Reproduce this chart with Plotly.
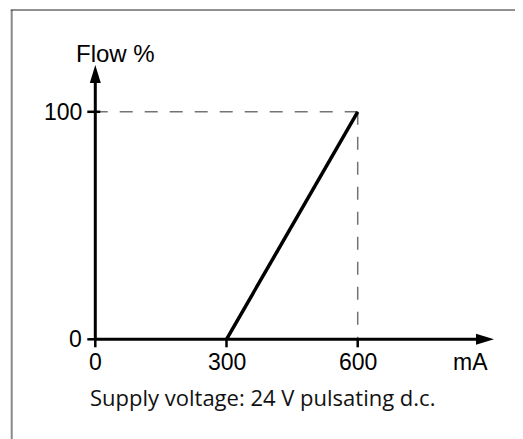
import plotly.graph_objects as go

# ---- data ----
current_ma = [300, 600]
flow_pct = [0, 100]
x_ticks = [0, 300, 600]
x_tick_labels = ["0", "300", "600"]
y_ticks = [0, 100]
y_tick_labels = ["0", "100"]
x_title = "mA"
y_title = "Flow %"
note = "Supply voltage: 24 V pulsating d.c."

# ---- layout geometry (pixel anchors, page offset of 8px compensated) ----
W, H = 523, 439
OFF = 8
x0_px, x600_px = 95.3 - OFF, 357.7 - OFF
y0_px, y100_px = 339.3 - OFF, 111.8 - OFF
sx = (x600_px - x0_px) / 600.0
sy = (y0_px - y100_px) / 100.0
x_range = [-x0_px / sx, (W - x0_px) / sx]
y_range = [(y0_px - H) / sy, y0_px / sy]
x_axis_end = (494 - OFF - x0_px) / sx
y_axis_end = (y0_px - (65 - OFF)) / sy

fig = go.Figure()

dash_style = dict(color="#737373", width=1.5, dash="13px,12px")
# dashed guides
fig.add_trace(go.Scatter(x=[x_ticks[2], x_ticks[0]], y=[y_ticks[1], y_ticks[1]], mode="lines",
                         line=dash_style, hoverinfo="skip"))
fig.add_trace(go.Scatter(x=[x_ticks[2], x_ticks[2]], y=[y_ticks[1], y_ticks[0]], mode="lines",
                         line=dash_style, hoverinfo="skip"))

# axes
fig.add_trace(go.Scatter(x=[0, x_axis_end - 10 / sx], y=[0, 0], mode="lines",
                         line=dict(color="black", width=3), hoverinfo="skip"))
fig.add_trace(go.Scatter(x=[0, 0], y=[0, y_axis_end - 10 / sy], mode="lines",
                         line=dict(color="black", width=3), hoverinfo="skip"))

# characteristic
fig.add_trace(go.Scatter(x=current_ma, y=flow_pct, mode="lines",
                         line=dict(color="black", width=3.5), hoverinfo="skip"))

shapes = []
# arrowheads
shapes.append(dict(type="path", xref="x", yref="y", xsizemode="pixel", ysizemode="pixel",
                   xanchor=x_axis_end, yanchor=0, path="M0,0 L-18,5.5 L-18,-5.5 Z",
                   fillcolor="black", line=dict(width=0)))
shapes.append(dict(type="path", xref="x", yref="y", xsizemode="pixel", ysizemode="pixel",
                   xanchor=0, yanchor=y_axis_end, path="M0,0 L-5.5,-18 L5.5,-18 Z",
                   fillcolor="black", line=dict(width=0)))
# ticks
for t in x_ticks:
    shapes.append(dict(type="line", xref="x", yref="y", ysizemode="pixel", yanchor=0,
                       x0=t, x1=t, y0=0, y1=-8, line=dict(color="black", width=2.5)))
for t in y_ticks:
    shapes.append(dict(type="line", xref="x", yref="y", xsizemode="pixel", xanchor=0,
                       x0=-8, x1=5 if t > 0 else 0, y0=t, y1=t, line=dict(color="black", width=2.5)))
# frame
fx, fy = 11.7 - OFF, 10 - OFF
shapes.append(dict(type="line", xref="paper", yref="paper", x0=fx / W, x1=fx / W, y0=0, y1=1 - fy / H,
                   line=dict(color="#888888", width=2)))
shapes.append(dict(type="line", xref="paper", yref="paper", x0=(fx - 1) / W, x1=1, y0=1 - fy / H, y1=1 - fy / H,
                   line=dict(color="#222222", width=1)))

font_lab = dict(family="Liberation Sans, Arial, sans-serif", size=23, color="black")
ann = []
for t, lab in zip(x_ticks, x_tick_labels):
    ann.append(dict(x=t, y=0, xref="x", yref="y", text=lab, showarrow=False,
                    xanchor="center", yanchor="middle", yshift=-23, font=font_lab))
for t, lab in zip(y_ticks, y_tick_labels):
    ann.append(dict(x=0, y=t, xref="x", yref="y", text=lab, showarrow=False,
                    xanchor="right", yanchor="middle", xshift=-11, font=font_lab))
ann.append(dict(x=(470.7 - OFF - x0_px) / sx, y=0, xref="x", yref="y", text=x_title, showarrow=False,
                xanchor="center", yanchor="middle", yshift=-23, font=font_lab))
ann.append(dict(x=(115 - OFF - x0_px) / sx, y=(y0_px - (53.6 - OFF)) / sy, xref="x", yref="y", text=y_title,
                showarrow=False, xanchor="center", yanchor="middle",
                font=dict(family="Liberation Sans, Arial, sans-serif", size=24, color="black")))
ann.append(dict(x=(88 - OFF) / W, y=1 - (397 - OFF) / H, xref="paper", yref="paper", text=note, showarrow=False,
                xanchor="left", yanchor="middle",
                font=dict(family="Open Sans, Noto Sans, sans-serif", size=22, color="#111111")))

fig.update_layout(
    width=W, height=H, margin=dict(l=0, r=0, t=0, b=0),
    paper_bgcolor="white", plot_bgcolor="white", showlegend=False,
    xaxis=dict(range=x_range, visible=False, fixedrange=True),
    yaxis=dict(range=y_range, visible=False, fixedrange=True),
    shapes=shapes, annotations=ann,
)

fig.write_html("out.html")
